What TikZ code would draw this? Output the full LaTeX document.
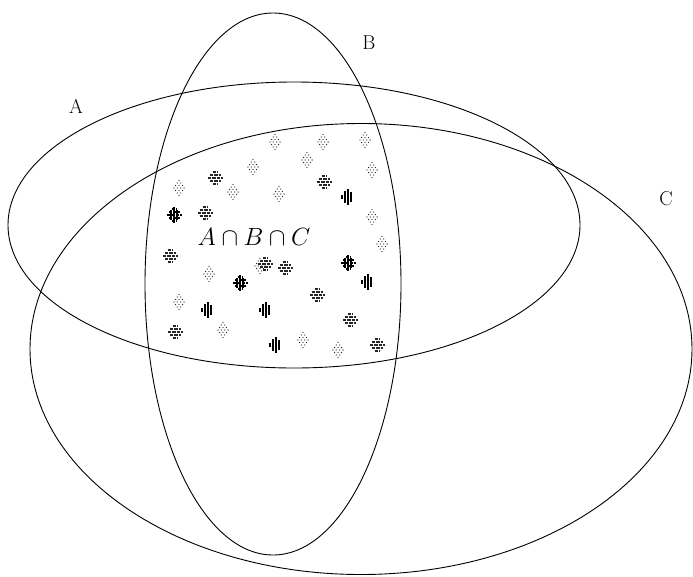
\documentclass[tikz,border=0pt]{standalone}
\usetikzlibrary{shapes.geometric}
\begin{document}
\begin{tikzpicture}[x=1pt,y=-1pt]
\useasboundingbox (0,0) rectangle (693,576);
\tikzset{
  setshape/.style={ellipse, draw=black, line width=0.9pt, inner sep=0pt, outer sep=0pt},
  setlabel/.style={font=\fontsize{20}{24}\selectfont, inner sep=0pt},
  dotmark/.pic={
    \foreach \p in {(0,-7.5),(-1.7,-5),(1.7,-5),(-3.4,-2.5),(0,-2.5),(3.4,-2.5),(-5.1,0),(-1.7,0),(1.7,0),(5.1,0),(-3.4,2.5),(0,2.5),(3.4,2.5),(-1.7,5),(1.7,5),(0,7.5)}
      \fill[black!85] \p circle[radius=0.65pt];
  },
  stripemark/.pic={
    \draw[line width=1.4pt, black!85, dash pattern=on 3.5pt off 1pt]
      (-2.5,-6)--(2.5,-6) (-5.5,-3)--(5.5,-3) (-7.5,0)--(7.5,0) (-5.5,3)--(5.5,3) (-2.5,6)--(2.5,6);
  },
  barmark/.pic={
    \draw[line width=1.3pt, black]
      (-5,-2)--(-5,2) (-2,-6)--(-2,6) (1,-8)--(1,8) (4,-5)--(4,5);
  },
  hashmark/.pic={
    \draw[line width=1.4pt, black, dash pattern=on 3.5pt off 1pt]
      (-2.5,-6)--(2.5,-6) (-5.5,-3)--(5.5,-3) (-7.5,0)--(7.5,0) (-5.5,3)--(5.5,3) (-2.5,6)--(2.5,6);
    \draw[line width=1.1pt, black]
      (-3,-5)--(-3,5) (0,-8)--(0,8) (3,-5)--(3,5);
  },
  mixmark/.pic={
    \pic at (-3,1) {dotmark};
    \pic at (2,-1) {stripemark};
  }
}
% sets
\node[setshape, minimum width=572pt, minimum height=286pt] (setA) at (294,225) {};
\node[setshape, minimum width=256pt, minimum height=542pt] (setB) at (273,284) {};
\node[setshape, minimum width=662pt, minimum height=451pt] (setC) at (361,349) {};
% labels
\node[setlabel] (labA) at (76,106) {A};
\node[setlabel] (labB) at (369,43) {B};
\node[setlabel] (labC) at (666,199) {C};
\node[inner sep=0pt, font=\fontsize{26}{30}\selectfont] (inter) at (254,237) {$A\cap B\cap C$};
% dotted marks
\foreach \q in {(275,142),(323,142),(365,140),(253,167),(307,160),(372,170),(179,188),(233,192),(279,194),(372,217),(382,244),(209,274),(179,302),(223,330),(303,340),(338,350)}
  \pic at \q {dotmark};
% striped marks
\foreach \q in {(215,178),(205,213),(170,256),(285,268),(317,295),(350,320),(175,332),(377,345),(324,182)}
  \pic at \q {stripemark};
\pic at (263,265) {mixmark};
% bar marks
\foreach \q in {(347,197),(367,282),(207,310),(265,310),(275,345)}
  \pic at \q {barmark};
% hatched marks
\foreach \q in {(174,215),(240,283),(348,263)}
  \pic at \q {hashmark};
\end{tikzpicture}
\end{document}
